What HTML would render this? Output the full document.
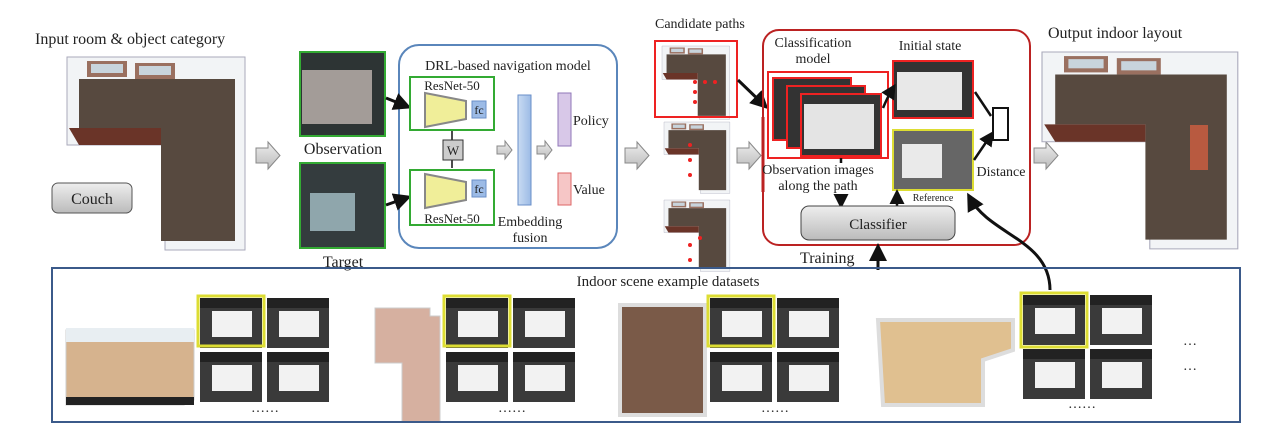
<!DOCTYPE html><html><head><style>body{margin:0;background:#fff}svg{display:block}text{font-family:"Liberation Serif",serif;fill:#222}</style></head><body>
<svg width="1274" height="440" viewBox="0 0 1274 440" xmlns="http://www.w3.org/2000/svg">
<defs>
<marker id="ah" markerWidth="6" markerHeight="6" refX="4" refY="3" orient="auto"><path d="M0,0L6,3L0,6z" fill="#111"/></marker>
<linearGradient id="bl" x1="0" x2="1"><stop offset="0" stop-color="#c9dbf2"/><stop offset="1" stop-color="#9cbbe6"/></linearGradient>
<linearGradient id="gr" x1="0" y1="0" x2="0" y2="1"><stop offset="0" stop-color="#eee"/><stop offset="1" stop-color="#bbb"/></linearGradient>
<g id="garr"><path d="M0,5h12v-6l12,13.5l-12,13.5v-6h-12z" fill="url(#gr)" stroke="#888"/></g>
<g id="room"><path d="M0,0h178v193h-80v-105h-98z" fill="#f2f4f6" stroke="#aab"/><path d="M12,22h156v162h-74v-113h-82z" fill="#57493f"/><rect x="20" y="4" width="40" height="16" fill="#9a7060"/><rect x="24" y="7" width="32" height="9" fill="#c8d4dc"/><rect x="68" y="6" width="40" height="16" fill="#9a7060"/><rect x="72" y="9" width="32" height="9" fill="#c8d4dc"/><path d="M2,71h92v17h-82z" fill="#6a3428"/></g>
<g id="tile"><rect width="62" height="50" fill="#3a3a3a"/><rect x="0" y="0" width="62" height="10" fill="#222"/><rect x="12" y="13" width="40" height="26" fill="#f2f2f2"/></g>
<clipPath id="bc"><rect x="53" y="269" width="1186" height="152"/></clipPath>
</defs>
<text x="35" y="44" font-size="16">Input room &amp; object category</text>
<use href="#room" x="67" y="57"/>
<rect x="52" y="183" width="80" height="30" rx="6" fill="url(#gr)" stroke="#555"/>
<text x="92" y="204" font-size="16" text-anchor="middle">Couch</text>
<use href="#garr" x="256" y="143"/>
<rect x="300" y="52" width="85" height="84" fill="#2d3434" stroke="#3a3" stroke-width="2"/><rect x="302" y="70" width="70" height="54" fill="#a39c98"/>
<text x="343" y="154" font-size="16" text-anchor="middle">Observation</text>
<rect x="300" y="163" width="85" height="85" fill="#343c3e" stroke="#3a3" stroke-width="2"/><rect x="310" y="193" width="45" height="38" fill="#8fa6ac"/>
<text x="343" y="267" font-size="16" text-anchor="middle">Target</text>
<rect x="399" y="45" width="218" height="203" rx="20" fill="#fff" stroke="#5a86bb" stroke-width="2"/>
<text x="508" y="70" font-size="14" text-anchor="middle">DRL-based navigation model</text>
<path d="M386,98L406,106" stroke="#111" stroke-width="3" marker-end="url(#ah)"/>
<path d="M386,205L406,198" stroke="#111" stroke-width="3" marker-end="url(#ah)"/>
<rect x="410" y="77" width="84" height="53" fill="#fff" stroke="#3a3" stroke-width="2"/>
<text x="452" y="90" font-size="13" text-anchor="middle">ResNet-50</text>
<path d="M425,93L466,101V119L425,127z" fill="#f0ee99" stroke="#888" stroke-width="2"/>
<rect x="472" y="101" width="14" height="17" fill="#9cbbe6" stroke="#6a8fc8"/><text x="479" y="114" font-size="12" text-anchor="middle">fc</text>
<rect x="410" y="170" width="84" height="55" fill="#fff" stroke="#3a3" stroke-width="2"/>
<text x="452" y="223" font-size="13" text-anchor="middle">ResNet-50</text>
<path d="M425,174L466,182V200L425,208z" fill="#f0ee99" stroke="#888" stroke-width="2"/>
<rect x="472" y="180" width="14" height="17" fill="#9cbbe6" stroke="#6a8fc8"/><text x="479" y="193" font-size="12" text-anchor="middle">fc</text>
<path d="M452,131V168" stroke="#111" stroke-width="1.5"/>
<rect x="443" y="140" width="20" height="20" fill="#ccc" stroke="#333"/><text x="453" y="155" font-size="13" text-anchor="middle">W</text>
<path d="M497,146h8v-5l7,9l-7,9v-5h-8z" fill="url(#gr)" stroke="#888"/>
<rect x="518" y="95" width="13" height="110" fill="url(#bl)" stroke="#6a8fc8"/>
<text x="530" y="226" font-size="14" text-anchor="middle">Embedding</text><text x="530" y="242" font-size="14" text-anchor="middle">fusion</text>
<path d="M537,146h8v-5l7,9l-7,9v-5h-8z" fill="url(#gr)" stroke="#888"/>
<rect x="558" y="93" width="13" height="53" fill="#d8c8e8" stroke="#9077b8"/>
<rect x="558" y="173" width="13" height="32" fill="#f6c6c6" stroke="#d66"/>
<text x="573" y="125" font-size="14">Policy</text><text x="573" y="194" font-size="14">Value</text>
<use href="#garr" x="625" y="143"/>
<text x="655" y="28" font-size="14">Candidate paths</text>
<g transform="translate(662,46) scale(0.38)"><use href="#room"/></g>
<rect x="655" y="41" width="82" height="76" fill="none" stroke="#e22" stroke-width="2"/>
<g transform="translate(664,122) scale(0.37)"><use href="#room"/></g>
<g transform="translate(664,200) scale(0.37)"><use href="#room"/></g>
<g fill="#e22"><circle cx="695" cy="82" r="2"/><circle cx="705" cy="82" r="2"/><circle cx="715" cy="82" r="2"/><circle cx="695" cy="92" r="2"/><circle cx="695" cy="102" r="2"/><circle cx="690" cy="145" r="2"/><circle cx="690" cy="160" r="2"/><circle cx="690" cy="175" r="2"/><circle cx="690" cy="245" r="2"/><circle cx="700" cy="238" r="2"/><circle cx="690" cy="260" r="2"/></g>
<path d="M738,80L764,105" stroke="#111" stroke-width="3" marker-end="url(#ah)"/>
<use href="#garr" x="737" y="143"/>
<rect x="763" y="30" width="267" height="215" rx="16" fill="none" stroke="#b22" stroke-width="2"/>
<path d="M763,117V192" stroke="#b22" stroke-width="3"/>
<text x="813" y="47" font-size="14" text-anchor="middle">Classification</text><text x="813" y="63" font-size="14" text-anchor="middle">model</text>
<rect x="768" y="72" width="120" height="86" fill="#fff" stroke="#e22" stroke-width="2"/>
<rect x="773" y="78" width="78" height="62" fill="#333" stroke="#e22" stroke-width="2"/>
<rect x="787" y="86" width="78" height="62" fill="#333" stroke="#e22" stroke-width="2"/>
<rect x="801" y="94" width="80" height="62" fill="#333" stroke="#e22" stroke-width="2"/><rect x="804" y="104" width="70" height="45" fill="#e4e4e4"/>
<text x="930" y="50" font-size="14" text-anchor="middle">Initial state</text>
<rect x="893" y="61" width="80" height="57" fill="#333" stroke="#e22" stroke-width="2"/><rect x="897" y="72" width="65" height="38" fill="#e8e8e8"/>
<rect x="893" y="130" width="80" height="60" fill="#666" stroke="#dd3" stroke-width="2"/><rect x="902" y="144" width="40" height="34" fill="#eaeaea"/>
<path d="M883,108q5,-12 10,-20" stroke="#111" stroke-width="2.5" fill="none" marker-end="url(#ah)"/>
<text x="818" y="174" font-size="14" text-anchor="middle">Observation images</text><text x="818" y="190" font-size="14" text-anchor="middle">along the path</text>
<path d="M841,158V163M841,195V204" stroke="#111" stroke-width="2.5" marker-end="url(#ah)"/>
<text x="933" y="201" font-size="10" text-anchor="middle">Reference</text>
<path d="M897,206V194" stroke="#111" stroke-width="2.5" marker-end="url(#ah)"/>
<rect x="993" y="108" width="15" height="32" fill="#fff" stroke="#111" stroke-width="2"/>
<path d="M975,92L991,116M974,160L991,135" stroke="#111" stroke-width="2.5" marker-end="url(#ah)"/>
<text x="1001" y="176" font-size="14" text-anchor="middle">Distance</text>
<rect x="801" y="206" width="154" height="34" rx="8" fill="url(#gr)" stroke="#444"/>
<text x="878" y="229" font-size="15" text-anchor="middle">Classifier</text>
<text x="800" y="263" font-size="16">Training</text>
<path d="M878,270V249" stroke="#111" stroke-width="3" marker-end="url(#ah)"/>
<path d="M1050,290C1050,240 990,235 970,198" stroke="#111" stroke-width="3" fill="none" marker-end="url(#ah)"/>
<use href="#garr" x="1034" y="143"/>
<text x="1048" y="38" font-size="16">Output indoor layout</text>
<g transform="translate(1042,52) scale(1.1,1.02)"><use href="#room"/></g>
<rect x="1190" y="125" width="18" height="45" fill="#b85a40"/>
<rect x="52" y="268" width="1188" height="154" fill="none" stroke="#3b5a8a" stroke-width="2"/>
<text x="668" y="286" font-size="15" text-anchor="middle">Indoor scene example datasets</text>
<g clip-path="url(#bc)">
<path d="M66,330h128v70l-10,5h-118z" fill="#d6b38e" stroke="#ccc"/><rect x="66" y="328" width="128" height="14" fill="#e8eef2"/><rect x="66" y="397" width="128" height="8" fill="#222"/>
<path d="M375,308h55v8h10v112h-38v-65h-27z" fill="#d6b0a0" stroke="#ccc"/>
<path d="M620,305h85v110h-85z" fill="#7a5a48" stroke="#ddd" stroke-width="4"/>
<path d="M878,320h135v30l-30,10v45h-100z" fill="#e0c090" stroke="#ddd" stroke-width="4"/>
</g>
<g><use href="#tile" x="200" y="298"/><use href="#tile" x="267" y="298"/><use href="#tile" x="200" y="352"/><use href="#tile" x="267" y="352"/><rect x="198" y="296" width="66" height="50" fill="none" stroke="#dd3" stroke-width="3"/></g>
<g><use href="#tile" x="446" y="298"/><use href="#tile" x="513" y="298"/><use href="#tile" x="446" y="352"/><use href="#tile" x="513" y="352"/><rect x="444" y="296" width="66" height="50" fill="none" stroke="#dd3" stroke-width="3"/></g>
<g><use href="#tile" x="710" y="298"/><use href="#tile" x="777" y="298"/><use href="#tile" x="710" y="352"/><use href="#tile" x="777" y="352"/><rect x="708" y="296" width="66" height="50" fill="none" stroke="#dd3" stroke-width="3"/></g>
<g><use href="#tile" x="1023" y="295"/><use href="#tile" x="1090" y="295"/><use href="#tile" x="1023" y="349"/><use href="#tile" x="1090" y="349"/><rect x="1021" y="293" width="66" height="54" fill="none" stroke="#dd3" stroke-width="3"/></g>
<text x="265" y="412" font-size="14" text-anchor="middle">……</text>
<text x="512" y="412" font-size="14" text-anchor="middle">……</text>
<text x="775" y="412" font-size="14" text-anchor="middle">……</text>
<text x="1082" y="408" font-size="14" text-anchor="middle">……</text>
<text x="1190" y="345" font-size="14" text-anchor="middle">…</text>
<text x="1190" y="370" font-size="14" text-anchor="middle">…</text>
</svg></body></html>
